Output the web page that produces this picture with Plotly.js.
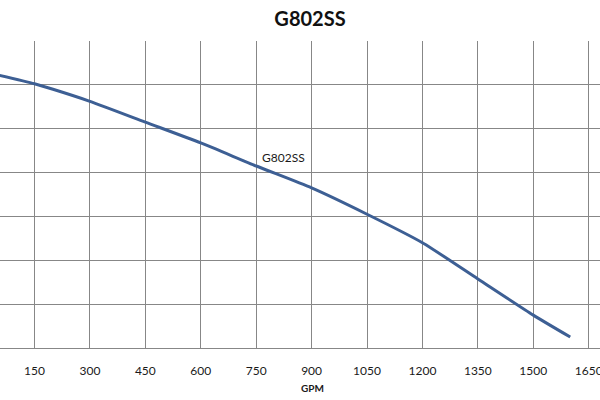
<!DOCTYPE html>
<html>
<head>
<meta charset="utf-8">
<script src="https://cdn.plot.ly/plotly-3.0.1.min.js"></script>
<style>html,body{margin:0;padding:0;background:#fff;}#chart{width:600px;height:400px;}</style>
</head>
<body>
<div id="chart"></div>
<script>
// Flow (GPM) and head values
const seriesName = "G802SS";
const gpm  = [0, 150, 200, 300, 450, 600, 750, 900, 1050, 1200, 1350, 1500, 1600];
const head = [126.5, 120.5, 118, 112.5, 103, 93.5, 83, 73, 61, 48, 31.5, 15, 5];
const xTicks = [150, 300, 450, 600, 750, 900, 1050, 1200, 1350, 1500, 1650];

const grid = "#878787";
const trace = {
  x: gpm, y: head, type: "scatter", mode: "lines", name: seriesName,
  line: {color: "#3d5f94", width: 3, shape: "spline", smoothing: 0.6},
  hoverinfo: "skip"
};

const layout = {
  width: 600, height: 400,
  margin: {l: 0, r: 0, t: 41, b: 52},
  paper_bgcolor: "#fff", plot_bgcolor: "#fff",
  showlegend: false,
  font: {family: "Lato, 'Liberation Sans', sans-serif", color: "#1a1a1a"},
  title: {
    text: "<b>" + seriesName + "</b>",
    font: {size: 20, family: "Lato, 'Liberation Sans', sans-serif", color: "#111"},
    xref: "container", yref: "container", x: 310/600, y: 1 - 18.5/400,
    xanchor: "center", yanchor: "middle"
  },
  xaxis: {
    range: [56.6, 1680.6], tickmode: "array", tickvals: xTicks,
    ticktext: xTicks.map(String),
    showgrid: true, gridcolor: grid, gridwidth: 1,
    showline: true, linecolor: grid, linewidth: 1,
    zeroline: false, ticks: "", ticklabelstandoff: 12,
    ticklabeloverflow: "allow",
    tickfont: {size: 12, color: "#1a1a1a"}
  },
  yaxis: {
    range: [0, 140], dtick: 20, tick0: 0,
    showgrid: true, gridcolor: grid, gridwidth: 1,
    showline: false, zeroline: false, showticklabels: false, ticks: ""
  },
  annotations: [
    {x: 825, y: 87.1, xref: "x", yref: "y", text: seriesName, showarrow: false,
     font: {size: 12, color: "#1a1a1a"}, xanchor: "center", yanchor: "middle"},
    {x: 313/600, y: -(388.3-348)/307, xref: "paper", yref: "paper", text: "<b>GPM</b>",
     showarrow: false, font: {size: 10, color: "#1a1a1a"}, xanchor: "center", yanchor: "middle"}
  ]
};

Plotly.newPlot("chart", [trace], layout, {displayModeBar: false, staticPlot: true});
</script>
</body>
</html>
